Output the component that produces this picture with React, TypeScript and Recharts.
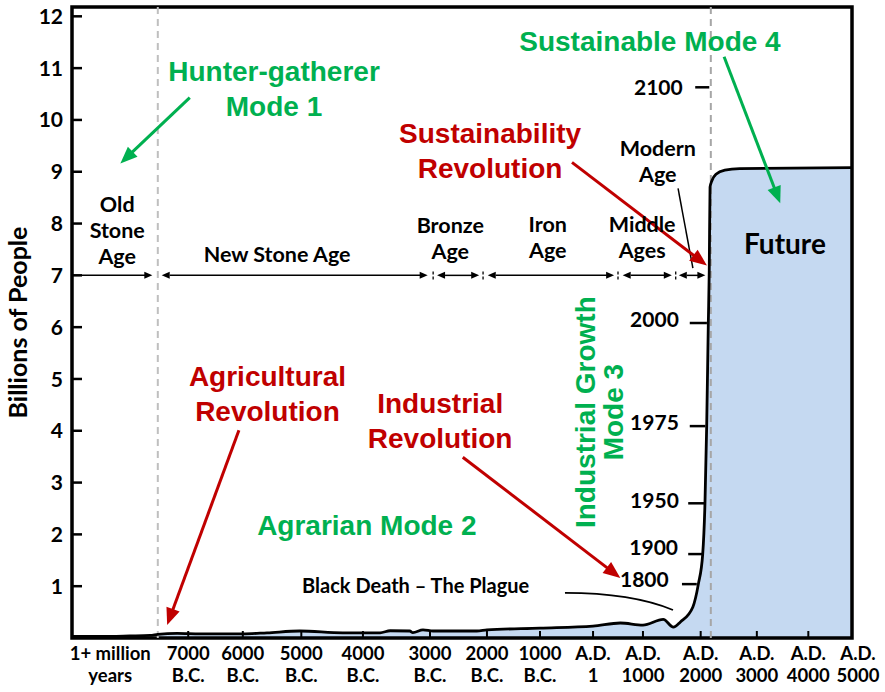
import React from 'react';
import {
  ComposedChart,
  Area,
  Line,
  XAxis,
  YAxis,
  ReferenceLine,
  ReferenceDot,
  ReferenceArea,
} from 'recharts';

// ---- data: position along the (hand-drawn, non-linear) timeline, 0..100 ----
const curveX = [0, 3.6, 7.4, 10.0, 11.0, 13.5, 16.4, 21.9, 25.0, 29.2, 34.7, 39.5, 40.8, 43.3, 43.7, 45.0, 46.3, 51.9, 53.2, 60.0, 66.8, 70.3, 73.2, 75.8, 77.1, 78.0, 79.6, 80.3, 80.86, 81.15, 81.37, 81.58, 81.7, 81.8, 82.05, 82.56, 83.7, 85.6, 100];
// world population, billions
const population = [0.03, 0.03, 0.04, 0.05, 0.07, 0.09, 0.08, 0.08, 0.1, 0.135, 0.1, 0.1, 0.14, 0.135, 0.105, 0.155, 0.135, 0.135, 0.155, 0.19, 0.23, 0.29, 0.25, 0.36, 0.21, 0.31, 0.6, 1.04, 1.62, 2.6, 4.09, 6.08, 7.1, 8.7, 8.83, 8.95, 9.03, 9.06, 9.08];
const agrarianStart = 11.0; // shaded area begins here
const futureStart = 81.9;

const xTickPositions = [4.9, 14.9, 21.9, 29.4, 37.3, 45.9, 53.2, 60.0, 66.8, 73.2, 80.6, 87.8, 94.4, 100];
const xTickLabels = [
  ['1+ million', 'years'], ['7000', 'B.C.'], ['6000', 'B.C.'], ['5000', 'B.C.'], ['4000', 'B.C.'],
  ['3000', 'B.C.'], ['2000', 'B.C.'], ['1000', 'B.C.'], ['A.D.', '1'], ['A.D.', '1000'],
  ['A.D.', '2000'], ['A.D.', '3000'], ['A.D.', '4000'], ['A.D.', '5000'],
];
const yTicks = [1, 2, 3, 4, 5, 6, 7, 8, 9, 10, 11, 12];

// ---- annotations (data coordinates) ----
const ageLabels = [
  { x: 5.8, y: 8.22, lines: ['Old', 'Stone', 'Age'] },
  { x: 26.3, y: 7.25, lines: ['New Stone Age'] },
  { x: 48.5, y: 7.81, lines: ['Bronze', 'Age'] },
  { x: 61.0, y: 7.83, lines: ['Iron', 'Age'] },
  { x: 73.1, y: 7.83, lines: ['Middle', 'Ages'] },
  { x: 75.1, y: 9.3, lines: ['Modern', 'Age'] },
];
const ageSpans = [
  { from: 0, to: 10.3, both: false },
  { from: 11.5, to: 45.6, both: true },
  { from: 46.8, to: 52.2, both: true },
  { from: 53.3, to: 69.5, both: true },
  { from: 70.6, to: 76.9, both: true },
  { from: 77.8, to: 81.2, both: true },
];
const ageSeparators = [46.3, 52.7, 70.0, 77.4];
const ageLevel = 7;

const redLabels = [
  { x: 25.06, y: 4.86, lines: ['Agricultural', 'Revolution'] },
  { x: 47.2, y: 4.34, lines: ['Industrial', 'Revolution'] },
  { x: 53.6, y: 9.55, lines: ['Sustainability', 'Revolution'] },
];
const greenLabels = [
  { x: 25.9, y: 10.76, lines: ['Hunter-gatherer', 'Mode 1'] },
  { x: 74.1, y: 11.34, lines: ['Sustainable Mode 4'] },
  { x: 37.8, y: 1.99, lines: ['Agrarian Mode 2'] },
];
const industrialLabel = { x: 67.05, y: 4.36, lines: ['Industrial Growth', 'Mode 3'] };

const redArrows = [
  [21.4, 4.01, 12.2, 0.25],
  [50.1, 3.49, 70.3, 1.16],
  [64.1, 9.18, 81.4, 7.19],
];
const greenArrows = [
  [15.1, 10.43, 6.2, 9.16],
  [83.6, 11.22, 90.8, 8.39],
];
const modernPointer = [77.7, 8.68, 79.6, 7.14];

const yearLabels = [
  { label: '2100', x: 78.3, y: 10.48, tickFrom: 79.9, tickTo: 81.7, tickY: 10.63 },
  { label: '2000', x: 77.8, y: 6.0, tickFrom: 79.2, tickTo: 81.4, tickY: 6.08 },
  { label: '1975', x: 77.8, y: 4.01, tickFrom: 79.2, tickTo: 81.2, tickY: 4.09 },
  { label: '1950', x: 77.8, y: 2.51, tickFrom: 79.0, tickTo: 81.2, tickY: 2.6 },
  { label: '1900', x: 77.7, y: 1.6, tickFrom: 79.0, tickTo: 80.9, tickY: 1.62 },
  { label: '1800', x: 76.5, y: 0.98, tickFrom: 78.2, tickTo: 80.1, tickY: 1.04 },
];
const plagueLabel = { x: 29.5, y: 0.87, text: 'Black Death \u2013 The Plague' };
const plagueCurve = [63.2, 0.87, 77.05, 0.54];
const futureLabel = { x: 91.4, y: 7.41, text: 'Future' };

// ---- styles ----
const GREEN = '#00b050';
const RED = '#c00000';
const FILL = '#c5d9f1';
const CAL = 'Lato, "Open Sans", sans-serif';
const ARIAL = '"Liberation Sans", Arial, sans-serif';

const tableData = curveX.map((u, i) => ({
  u,
  v: population[i],
  f: u >= agrarianStart ? population[i] : null,
}));

const XTick = (props: any) => {
  const { x, y, payload } = props;
  const i = xTickPositions.indexOf(payload.value);
  if (i < 0) return null;
  const lines = xTickLabels[i];
  const last = i === xTickPositions.length - 1;
  const mark = i > 0 && !last;
  const cx = x + (last ? 6 : 0);
  return (
    <g>
      {mark && <line x1={x} x2={x} y1={y} y2={y - 7} stroke="#000" strokeWidth={2} />}
      <text x={cx} y={y + 22} textAnchor="middle" fontFamily={CAL} fontWeight="bold" fontSize={18.5} fill="#000">
        {lines[0]}
      </text>
      <text x={cx} y={y + 44} textAnchor="middle" fontFamily={CAL} fontWeight="bold" fontSize={18.5} fill="#000">
        {lines[1]}
      </text>
    </g>
  );
};

const YTick = (props: any) => {
  const { x, y, payload } = props;
  return (
    <g>
      <line x1={x} x2={x + 10} y1={y} y2={y} stroke="#000" strokeWidth={2.5} />
      <text x={x - 9} y={y} dy="0.36em" textAnchor="end" fontFamily={CAL} fontWeight="bold" fontSize={21} fill="#000">
        {payload.value}
      </text>
    </g>
  );
};

const textShape = (lines: string[], o: { color: string; size: number; font: string; lh: number; anchor?: string; rotate?: number }) =>
  (p: any) => {
    const { cx, cy } = p;
    return (
      <text
        x={cx}
        y={cy}
        textAnchor={(o.anchor || 'middle') as any}
        fill={o.color}
        fontSize={o.size}
        fontWeight="bold"
        fontFamily={o.font}
        transform={o.rotate ? `rotate(${o.rotate} ${cx} ${cy})` : undefined}
      >
        {lines.map((l, i) => (
          <tspan key={i} x={cx} dy={i === 0 ? 0 : o.lh}>
            {l}
          </tspan>
        ))}
      </text>
    );
  };

const arrowShape = (color: string, w: number, head: number, headW: number, both: boolean, withHead = true) =>
  (p: any) => {
    const { x1, y1, x2, y2 } = p;
    const dx = x2 - x1;
    const dy = y2 - y1;
    const len = Math.hypot(dx, dy) || 1;
    const ux = dx / len;
    const uy = dy / len;
    const px = -uy;
    const py = ux;
    const h = withHead ? head : 0;
    const headAt = (tx: number, ty: number, dirx: number, diry: number) => {
      const bx = tx - dirx * head;
      const by = ty - diry * head;
      return `${tx},${ty} ${bx + px * headW / 2},${by + py * headW / 2} ${bx - px * headW / 2},${by - py * headW / 2}`;
    };
    const sx = both ? x1 + ux * h : x1;
    const sy = both ? y1 + uy * h : y1;
    return (
      <g>
        <line x1={sx} y1={sy} x2={x2 - ux * h * 0.9} y2={y2 - uy * h * 0.9} stroke={color} strokeWidth={w} />
        {withHead && <polygon points={headAt(x2, y2, ux, uy)} fill={color} />}
        {withHead && both && <polygon points={headAt(x1, y1, -ux, -uy)} fill={color} />}
      </g>
    );
  };

const plagueShape = (p: any) => {
  const { x1, y1, x2, y2 } = p;
  const cx = x1 + (x2 - x1) * 0.62;
  return <path d={`M${x1},${y1} Q${cx},${y1} ${x2},${y2}`} stroke="#000" strokeWidth={1.8} fill="none" />;
};

const yTitle = (props: any) => {
  const vb = props.viewBox || { x: 0, y: 7, width: 72, height: 631 };
  const cx = vb.x + 17;
  const cy = vb.y + vb.height / 2;
  return (
    <text x={cx} y={cy} transform={`rotate(-90 ${cx} ${cy})`} textAnchor="middle" dominantBaseline="central" fontFamily={CAL} fontWeight="bold" fontSize={25} fill="#000">
      Billions of People
    </text>
  );
};

export default function App() {
  return (
    <div style={{ position: 'absolute', left: 0, top: 0, background: '#fff' }}>
      <ComposedChart
        width={885}
        height={692}
        data={tableData}
        margin={{ top: 7, right: 33, bottom: 0, left: 0 }}
      >
        <XAxis
          type="number"
          dataKey="u"
          domain={[0, 100]}
          ticks={xTickPositions}
          interval={0}
          tick={<XTick />}
          tickLine={false}
          axisLine={false}
          tickSize={0}
          tickMargin={0}
          height={54}
          allowDataOverflow
        />
        <YAxis
          type="number"
          domain={[0, 12.18]}
          ticks={yTicks}
          interval={0}
          tick={<YTick />}
          tickLine={false}
          axisLine={false}
          tickSize={0}
          tickMargin={0}
          width={72}
          allowDataOverflow
          label={{ content: yTitle }}
        />
        <Area
          type="monotone"
          dataKey="f"
          stroke="none"
          fill={FILL}
          fillOpacity={1}
          isAnimationActive={false}
          connectNulls={false}
          dot={false}
          activeDot={false}
        />
        <ReferenceLine x={agrarianStart} stroke="#bfbfbf" strokeWidth={2} strokeDasharray="7 5" ifOverflow="visible" />
        <ReferenceLine x={futureStart} stroke="#a6a6a6" strokeWidth={2} strokeDasharray="7 5" ifOverflow="visible" />
        <Line
          type="monotone"
          dataKey="v"
          stroke="#000"
          strokeWidth={2.8}
          dot={false}
          activeDot={false}
          isAnimationActive={false}
        />
        <ReferenceArea x1={0} x2={100} y1={0} y2={12.18} fill="none" stroke="#000" strokeWidth={3.5} ifOverflow="visible" />

        {/* age spans */}
        {ageSpans.map((s, i) => (
          <ReferenceLine
            key={`span${i}`}
            segment={[{ x: s.from, y: ageLevel }, { x: s.to, y: ageLevel }]}
            ifOverflow="visible"
            shape={arrowShape('#000', 1.5, 8, 7, s.both)}
          />
        ))}
        {ageSeparators.map((s, i) => (
          <ReferenceLine
            key={`sep${i}`}
            segment={[{ x: s, y: ageLevel - 0.08 }, { x: s, y: ageLevel + 0.08 }]}
            ifOverflow="visible"
            stroke="#000"
            strokeWidth={1.3}
            strokeDasharray="3 2"
          />
        ))}
        {ageLabels.map((a, i) => (
          <ReferenceDot key={`age${i}`} x={a.x} y={a.y} r={0} ifOverflow="visible"
            shape={textShape(a.lines, { color: '#000', size: 21.5, font: CAL, lh: 26 })} />
        ))}

        {/* year markers */}
        {yearLabels.map((yl, i) => (
          <ReferenceDot key={`yr${i}`} x={yl.x} y={yl.y} r={0} ifOverflow="visible"
            shape={textShape([yl.label], { color: '#000', size: 21, font: CAL, lh: 0, anchor: 'end' })} />
        ))}
        {yearLabels.map((yl, i) => (
          <ReferenceLine
            key={`yrt${i}`}
            segment={[{ x: yl.tickFrom, y: yl.tickY }, { x: yl.tickTo, y: yl.tickY }]}
            ifOverflow="visible"
            stroke="#000"
            strokeWidth={2.5}
          />
        ))}

        {/* plague */}
        <ReferenceDot x={plagueLabel.x} y={plagueLabel.y} r={0} ifOverflow="visible"
          shape={textShape([plagueLabel.text], { color: '#000', size: 20, font: CAL, lh: 0, anchor: 'start' })} />
        <ReferenceLine
          segment={[{ x: plagueCurve[0], y: plagueCurve[1] }, { x: plagueCurve[2], y: plagueCurve[3] }]}
          ifOverflow="visible"
          shape={plagueShape}
        />

        {/* future */}
        <ReferenceDot x={futureLabel.x} y={futureLabel.y} r={0} ifOverflow="visible"
          shape={textShape([futureLabel.text], { color: '#000', size: 28, font: CAL, lh: 0 })} />

        {/* modern age pointer */}
        <ReferenceLine
          segment={[{ x: modernPointer[0], y: modernPointer[1] }, { x: modernPointer[2], y: modernPointer[3] }]}
          ifOverflow="visible"
          stroke="#000"
          strokeWidth={1.5}
        />

        {/* red labels and arrows */}
        {redLabels.map((a, i) => (
          <ReferenceDot key={`red${i}`} x={a.x} y={a.y} r={0} ifOverflow="visible"
            shape={textShape(a.lines, { color: RED, size: 28, font: ARIAL, lh: 35 })} />
        ))}
        {redArrows.map((a, i) => (
          <ReferenceLine
            key={`ra${i}`}
            segment={[{ x: a[0], y: a[1] }, { x: a[2], y: a[3] }]}
            ifOverflow="visible"
            shape={arrowShape(RED, 3, 17, 14, false)}
          />
        ))}

        {/* green labels and arrows */}
        {greenLabels.map((a, i) => (
          <ReferenceDot key={`grn${i}`} x={a.x} y={a.y} r={0} ifOverflow="visible"
            shape={textShape(a.lines, { color: GREEN, size: 28, font: ARIAL, lh: 35 })} />
        ))}
        <ReferenceDot x={industrialLabel.x} y={industrialLabel.y} r={0} ifOverflow="visible"
          shape={textShape(industrialLabel.lines, { color: GREEN, size: 28, font: ARIAL, lh: 28, rotate: -90 })} />
        {greenArrows.map((a, i) => (
          <ReferenceLine
            key={`ga${i}`}
            segment={[{ x: a[0], y: a[1] }, { x: a[2], y: a[3] }]}
            ifOverflow="visible"
            shape={arrowShape(GREEN, 3, 17, 14, false)}
          />
        ))}
      </ComposedChart>
    </div>
  );
}
